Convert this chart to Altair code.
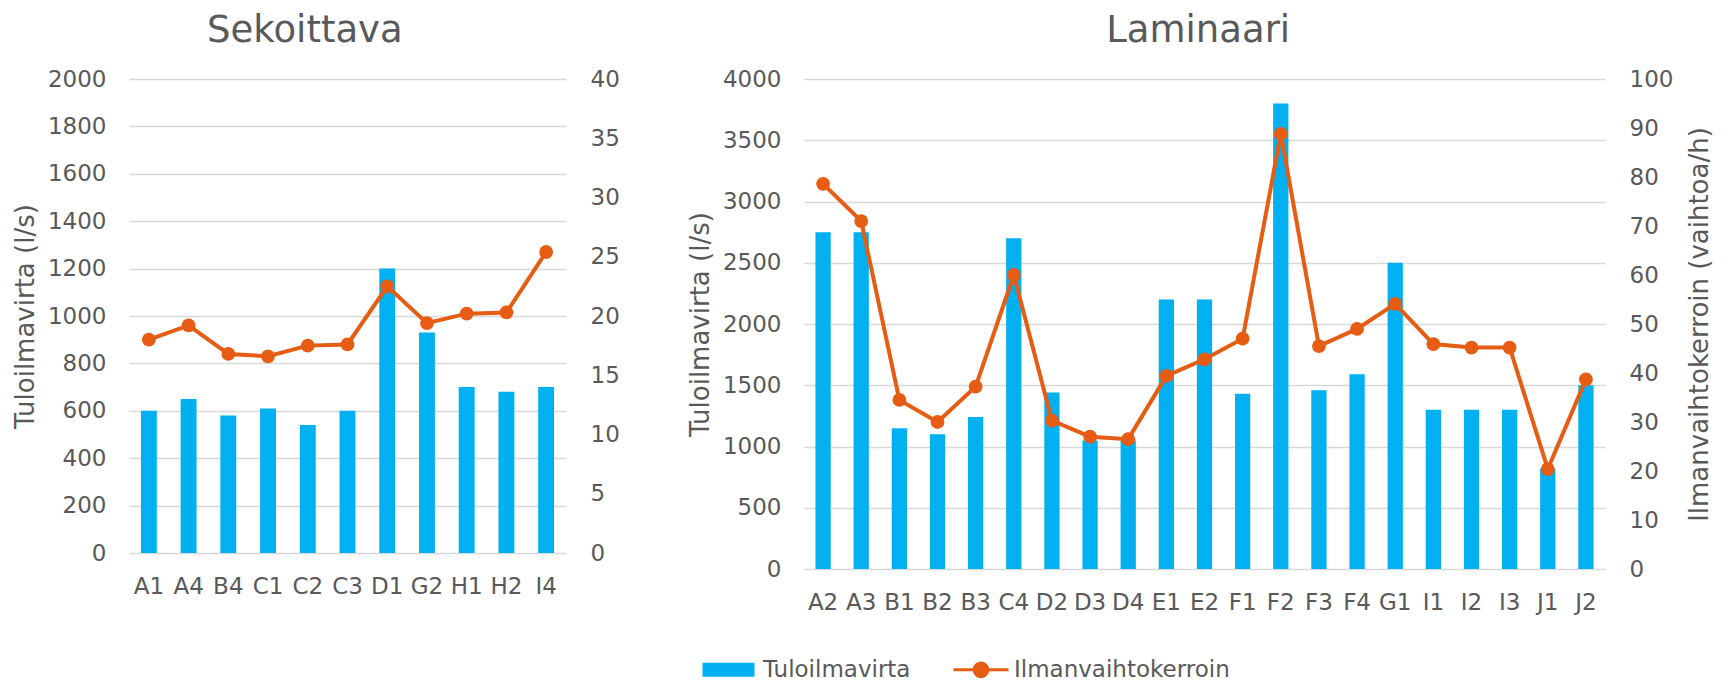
import altair as alt
import pandas as pd

BLUE = "#00B0F0"
ORANGE = "#E65C13"
TEXT = "#595959"
GRID = "#D9D9D9"
FONT = "DejaVu Sans"

SERIES = ["Tuloilmavirta", "Ilmanvaihtokerroin"]

# Sekoittava
sek_rooms = ["A1", "A4", "B4", "C1", "C2", "C3", "D1", "G2", "H1", "H2", "I4"]
sek_flow = [600, 650, 580, 610, 540, 600, 1200, 930, 700, 680, 700]
sek_ach = [18.0, 19.2, 16.8, 16.6, 17.5, 17.6, 22.5, 19.4, 20.2, 20.3, 25.4]

# Laminaari
lam_rooms = ["A2", "A3", "B1", "B2", "B3", "C4", "D2", "D3", "D4", "E1", "E2",
             "F1", "F2", "F3", "F4", "G1", "I1", "I2", "I3", "J1", "J2"]
lam_flow = [2750, 2750, 1150, 1100, 1240, 2700, 1440, 1050, 1050, 2200, 2200,
            1430, 3800, 1460, 1590, 2500, 1300, 1300, 1300, 820, 1500]
lam_ach = [78.6, 71.0, 34.5, 30.0, 37.2, 60.0, 30.3, 27.0, 26.5, 39.4, 42.8,
           47.0, 88.8, 45.5, 49.0, 54.1, 45.9, 45.2, 45.2, 20.4, 38.7]

RECT = "M-1,-0.7H4.2V0.7H-1Z"
LINEDOT = ("M-1,-0.15H4.5V0.15H-1Z "
           "M2.58,0A0.83,0.83,0,1,1,0.92,0A0.83,0.83,0,1,1,2.58,0Z")

color_scale = alt.Scale(domain=SERIES, range=[BLUE, ORANGE])
shape_scale = alt.Scale(domain=SERIES, range=[RECT, LINEDOT])

legend = alt.Legend(
    title=None, orient="none", direction="horizontal",
    legendX=572, legendY=579,
    symbolSize=400, labelFontSize=23, labelColor=TEXT, labelFont=FONT,
    labelOffset=39, columnPadding=41, padding=0, labelLimit=500,
    symbolOpacity=1, symbolStrokeWidth=0,
)


def panel(rooms, flow, ach, name, w, h, ymax, ystep, y2max, y2step, y2title, dx, with_legend):
    bar_df = pd.DataFrame({"huone": rooms, "arvo": flow})
    line_df = pd.DataFrame({"huone": rooms, "arvo": ach})
    x = alt.X("huone:N", sort=rooms, title=None,
              scale=alt.Scale(paddingInner=0.6, paddingOuter=0.3),
              axis=alt.Axis(labelAngle=0, labelFontSize=23, labelColor=TEXT, labelFont=FONT,
                            labelPadding=22, domain=False, ticks=False, tickSize=0, grid=False))
    bars = alt.Chart(bar_df).mark_bar(color=BLUE).encode(
        x=x,
        y=alt.Y("arvo:Q", title="Tuloilmavirta (l/s)",
                scale=alt.Scale(domain=[0, ymax], nice=False),
                axis=alt.Axis(values=list(range(0, ymax + 1, ystep)), format="d", grid=True,
                              gridColor=GRID, gridWidth=1.5, domain=False, ticks=False, tickSize=0,
                              labelFontSize=23, labelColor=TEXT, labelFont=FONT, labelPadding=23,
                              titleFontSize=26, titleColor=TEXT, titleFont=FONT,
                              titleFontWeight="normal", titlePadding=9)),
    )
    y2axis = dict(orient="right", values=list(range(0, y2max + 1, y2step)), format="d", grid=False,
                  domain=False, ticks=False, tickSize=0, labelFontSize=23, labelColor=TEXT,
                  labelFont=FONT, labelPadding=24, titleFontSize=26, titleColor=TEXT,
                  titleFont=FONT, titleFontWeight="normal", titleAngle=270,
                  titleBaseline="top", titlePadding=14)
    line = alt.Chart(line_df).mark_line(
        color=ORANGE, strokeWidth=4,
        point=alt.OverlayMarkDef(filled=True, size=190, opacity=1, color=ORANGE),
    ).encode(
        x=x,
        y=alt.Y("arvo:Q", title=y2title,
                scale=alt.Scale(domain=[0, y2max], nice=False),
                axis=alt.Axis(**y2axis)),
    )
    layers = [bars, line]
    if with_legend:
        leg_df = pd.DataFrame({"sarja": SERIES})
        leg = alt.Chart(leg_df).mark_point(filled=True, opacity=0).encode(
            color=alt.Color("sarja:N", scale=color_scale, legend=legend, sort=SERIES),
            shape=alt.Shape("sarja:N", scale=shape_scale, legend=legend, sort=SERIES),
        )
        layers.append(leg)
    return alt.layer(*layers).resolve_scale(y="independent").properties(
        width=w, height=h,
        title=alt.Title(name, fontSize=37, color=TEXT, fontWeight="normal", font=FONT,
                        anchor="middle", frame="bounds", baseline="alphabetic",
                        offset=-11, dx=dx),
    )


left = panel(sek_rooms, sek_flow, sek_ach, "Sekoittava", 437, 474, 2000, 200, 40, 5, None, -11, True)
right = panel(lam_rooms, lam_flow, lam_ach, "Laminaari", 801, 490, 4000, 500, 100, 10,
              "Ilmanvaihtokerroin (vaihtoa/h)", -2, False)

chart = alt.hconcat(left, right, spacing=67).properties(
    padding={"left": 4, "top": 4, "right": 0, "bottom": 0}
).configure(font=FONT).configure_view(stroke=None)

chart.save("out.html", embed_options={"renderer": "svg", "actions": False})
